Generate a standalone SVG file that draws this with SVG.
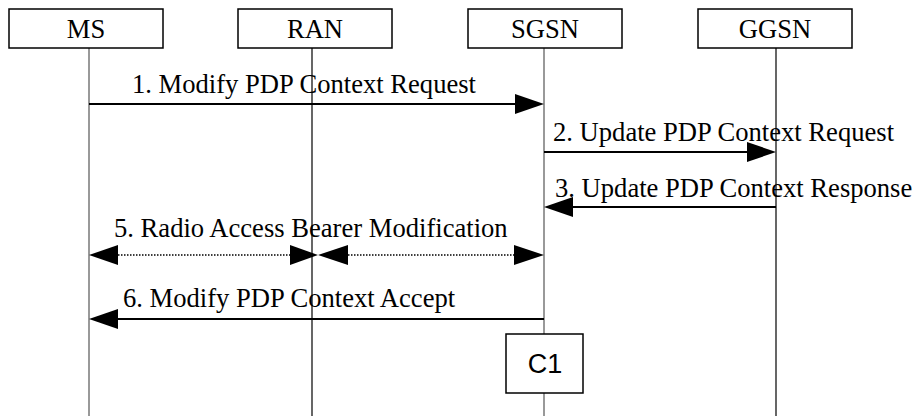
<svg xmlns="http://www.w3.org/2000/svg" width="915" height="416" viewBox="0 0 915 416">
<style>
.box{fill:#fff;stroke:#000;stroke-width:1.5}
.lbl{font-family:"Liberation Serif","Times New Roman",serif;font-size:26.6px;fill:#000}
.life{stroke:#000;stroke-width:1.2;fill:none}
.lifeg{stroke:#777;stroke-width:1.5;fill:none}
.msg{stroke:#000;stroke-width:2;fill:none}
.dot{stroke:#000;stroke-width:1.5;stroke-dasharray:1.5,1.5;fill:none}
.head{fill:#000;stroke:none}
</style>
<rect width="915" height="416" fill="#fff"/>
<g id="lifelines">
<line class="lifeg" x1="89" y1="48" x2="89" y2="416"/>
<line class="life" x1="312" y1="48" x2="312" y2="416"/>
<line class="lifeg" x1="544" y1="48" x2="544" y2="416"/>
<line class="life" x1="776" y1="48" x2="776" y2="416"/>
</g>
<g id="node-MS"><rect class="box" x="9" y="9" width="154" height="39"/><text class="lbl" x="86" y="38" text-anchor="middle">MS</text></g>
<g id="node-RAN"><rect class="box" x="238" y="9" width="154" height="39"/><text class="lbl" x="315" y="38" text-anchor="middle">RAN</text></g>
<g id="node-SGSN"><rect class="box" x="468" y="9" width="154" height="39"/><text class="lbl" x="545" y="38" text-anchor="middle">SGSN</text></g>
<g id="node-GGSN"><rect class="box" x="698" y="9" width="154" height="39"/><text class="lbl" x="775" y="38" text-anchor="middle">GGSN</text></g>
<g id="connectors">
<line class="msg" x1="89" y1="104" x2="516" y2="104"/>
<polygon class="head" points="544,104 515,94 515,114"/>
<text class="lbl" x="132" y="93">1. Modify PDP Context Request</text>
<line class="msg" x1="544" y1="152" x2="748" y2="152"/>
<polygon class="head" points="776,152 747,142 747,162"/>
<text class="lbl" x="553" y="141">2. Update PDP Context Request</text>
<line class="msg" x1="776" y1="207" x2="572" y2="207"/>
<polygon class="head" points="544,207 573,197 573,217"/>
<text class="lbl" x="555" y="197">3. Update PDP Context Response</text>
<line class="dot" x1="118" y1="255" x2="290" y2="255"/>
<polygon class="head" points="89,255 118,245 118,265"/>
<polygon class="head" points="318,255 290,245 290,265"/>
<line class="dot" x1="348" y1="255" x2="515" y2="255"/>
<polygon class="head" points="318,255 348,245 348,265"/>
<polygon class="head" points="544,255 514,245 514,265"/>
<text class="lbl" x="114" y="237">5. Radio Access Bearer Modification</text>
<line class="msg" x1="544" y1="319" x2="117" y2="319"/>
<polygon class="head" points="89,319 118,309 118,329"/>
<text class="lbl" x="123" y="307">6. Modify PDP Context Accept</text>
</g>
<g id="node-C1"><rect class="box" x="506" y="334" width="77" height="59"/><text x="545" y="373" text-anchor="middle" font-family="'Liberation Sans',Arial,sans-serif" font-size="27">C1</text></g>
</svg>
